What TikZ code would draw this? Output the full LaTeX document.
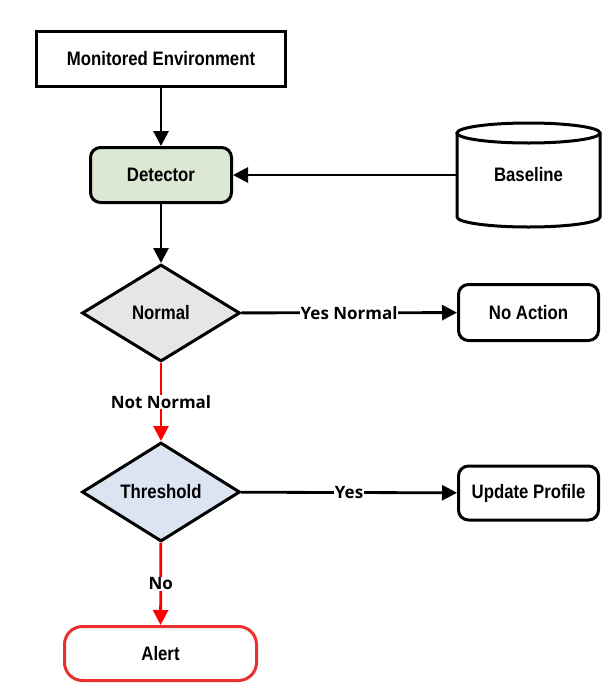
\documentclass[tikz,border=0pt]{standalone}
\usepackage{fontspec}
\setmainfont{Liberation Sans}[FakeStretch=0.86]
\newfontfamily\labfont{Open Sans}
\usetikzlibrary{shapes.geometric,arrows.meta}
\definecolor{detfill}{HTML}{DCE8D2}
\definecolor{normfill}{HTML}{E6E6E6}
\definecolor{thrfill}{HTML}{DAE5F1}
\definecolor{alertred}{HTML}{E8312F}
\begin{document}
\begin{tikzpicture}[x=1pt,y=-1pt,
  font=\fontsize{19.5}{21}\selectfont\bfseries,
  box/.style={draw=black, line width=3pt, fill=white, inner sep=0pt},
  rbox/.style={box, rounded corners=10pt},
  decision/.style={diamond, draw=black, line width=3pt, inner sep=0pt, aspect=1.6},
  conn/.style={line width=2.8pt, -{Triangle[length=15pt,width=15pt]}},
  redconn/.style={conn, draw=red, color=red},
  lab/.style={fill=white, inner sep=0.5pt, text=black, font=\labfont\fontsize{17}{19}\selectfont\bfseries}
]
\useasboundingbox[fill=white] (0,0) rectangle (602,691);

\node[box, minimum width=249pt, minimum height=55pt] (env) at (161,59) {Monitored Environment};
\node[rbox, fill=detfill, minimum width=141pt, minimum height=55pt] (det) at (161,175) {Detector};

% Baseline cylinder
\node[minimum width=143pt, minimum height=104pt, inner sep=0pt] (base) at (528.5,175) {Baseline};
\draw[line width=3pt] (457,133) -- (457,217)
  arc[start angle=180, end angle=0, x radius=71.5, y radius=10] -- (600,133);
\draw[line width=3pt] (528.5,133) ellipse[x radius=71.5, y radius=10];

\node[decision, fill=normfill, minimum width=158pt, minimum height=97pt] (normal) at (161,313) {Normal};
\node[rbox, minimum width=140pt, minimum height=56pt] (noact) at (528.5,312.5) {No Action};

\node[decision, fill=thrfill, minimum width=158pt, minimum height=99pt] (thr) at (161,492) {Threshold};
\node[rbox, minimum width=140pt, minimum height=54pt] (upd) at (528.5,493) {Update Profile};

\node[box, draw=alertred, rounded corners=18pt, minimum width=192pt, minimum height=54pt] (alert) at (160.5,653.5) {Alert};

\draw[conn] (env) -- (det);
\draw[conn] (base) -- (det);
\draw[conn] (det) -- (normal);
\draw[conn] (normal) -- node[lab]{Yes Normal} (noact);
\draw[redconn] (normal) -- node[lab]{Not Normal} (thr);
\draw[conn] (thr) -- node[lab]{Yes} (upd);
\draw[redconn] (thr) -- node[lab]{No} (alert);
\end{tikzpicture}
\end{document}
